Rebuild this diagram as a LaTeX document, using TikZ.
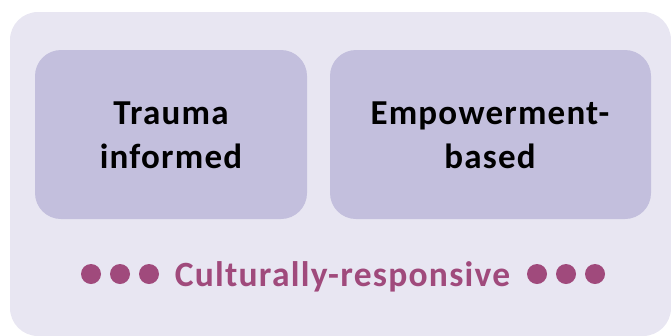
\documentclass[tikz,border=0pt]{standalone}
\usepackage{fontspec}
\setmainfont{Carlito}
\newfontfamily\spacedfont[LetterSpace=3.5]{Carlito}
\definecolor{panelbg}{HTML}{E8E6F2}
\definecolor{cardbg}{HTML}{C3BFDD}
\definecolor{accent}{HTML}{A04A7C}
\begin{document}
\begin{tikzpicture}[x=1pt,y=-1pt,
  card/.style={fill=cardbg, draw=none, rounded corners=26pt},
  cardtext/.style={font=\spacedfont\fontsize{35}{44}\selectfont\bfseries, align=center, text=black},
  dot/.style={circle, fill=accent, minimum size=20pt, inner sep=0pt},
  ]
  \useasboundingbox (0,0) rectangle (671,335);
  % outer panel
  \fill[panelbg, rounded corners=28pt] (10,12) rectangle (671,336);
  % the two cards
  \fill[card] (35,50) rectangle (307,219);
  \fill[card] (330,50) rectangle (651,219);
  \node[cardtext] (trauma) at (171,135) {Trauma\\informed};
  \node[cardtext] (empower) at (490,135) {Empowerment-\\based};
  % bottom caption with dots
  \node[font=\spacedfont\fontsize{35.5}{40}\selectfont\bfseries, text=accent, anchor=base] (culture) at (342.5,286) {Culturally-responsive};
  \foreach \i/\x in {1/91,2/120,3/149} \node[dot] (l\i) at (\x,274) {};
  \foreach \i/\x in {1/537,2/566,3/595} \node[dot] (r\i) at (\x,274) {};
\end{tikzpicture}
\end{document}
